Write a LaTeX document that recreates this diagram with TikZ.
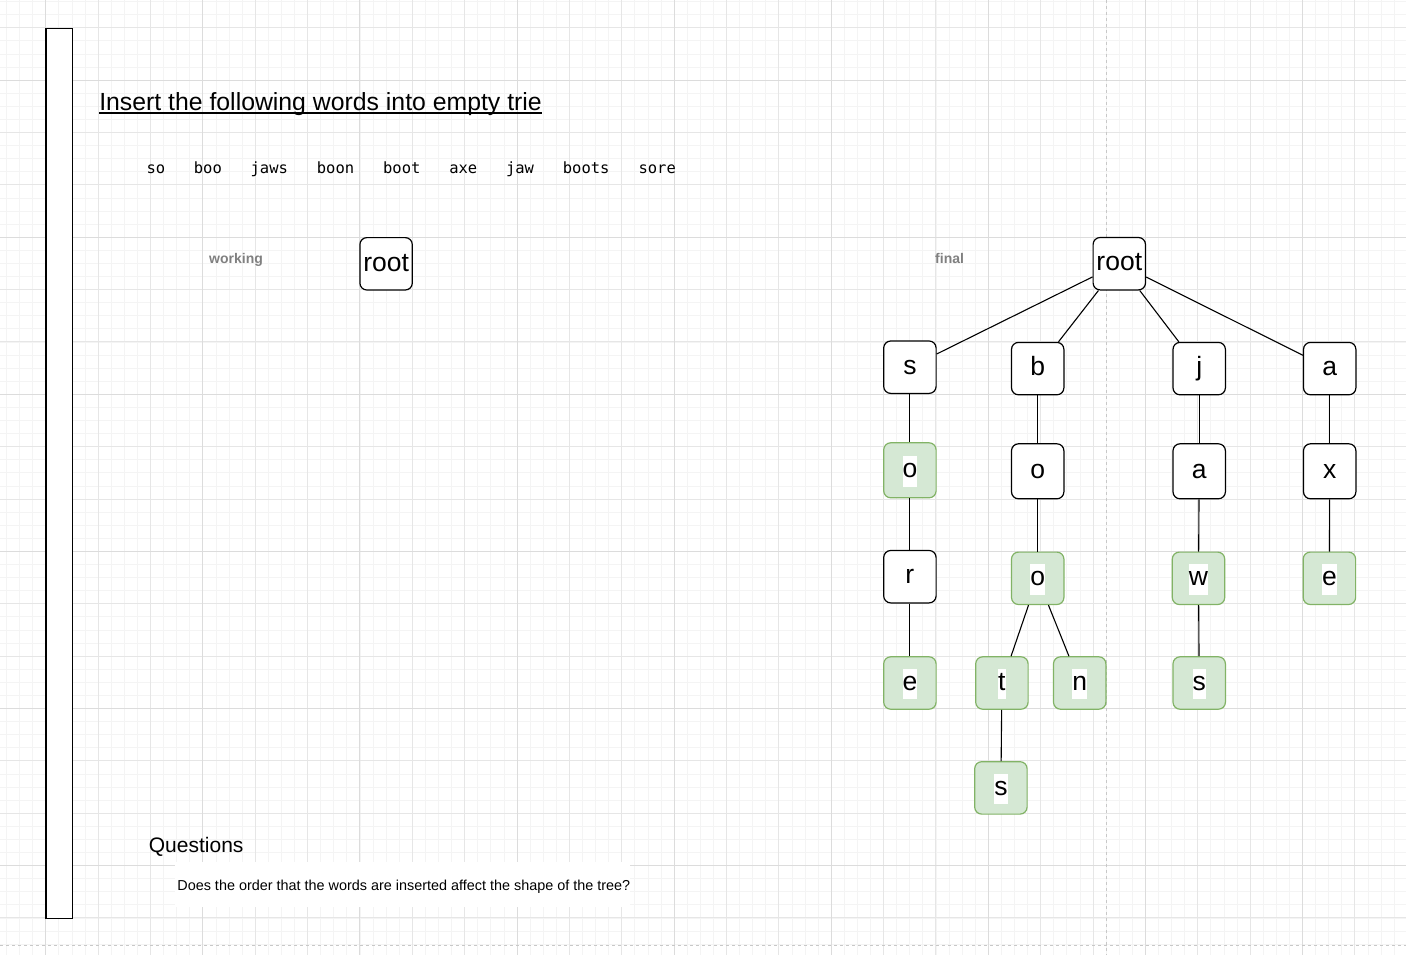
\documentclass[tikz,border=0pt]{standalone}
\usepackage{fontspec}
\setmainfont{Liberation Sans}
\newfontfamily\monof{DejaVu Sans Mono}
\definecolor{gfill}{HTML}{D5E8D4}
\definecolor{gline}{HTML}{82B366}
\definecolor{gridminor}{HTML}{F4F4F4}
\definecolor{gridmajor}{HTML}{E6E6E6}
\definecolor{griddark}{HTML}{DCDCDC}
\definecolor{pagebreak}{HTML}{C8C8C8}
\definecolor{labelgray}{HTML}{808080}
\newcommand{\wbg}[1]{{\setlength{\fboxsep}{0pt}\colorbox{white}{\rule[-9pt]{0pt}{30.5pt}#1}}}
\begin{document}
\begin{tikzpicture}[x=1pt,y=-1pt,
  trie/.style={draw=black, line width=1.2pt, rounded corners=7pt, fill=white,
    minimum width=52.4pt, minimum height=52.4pt, inner sep=0pt,
    font=\fontsize{26.5}{31}\selectfont, text height=22.5pt, text depth=8pt},
  leaf/.style={trie, fill=gfill, draw=gline},
  edge/.style={line width=1.1pt, black},
  word/.style={anchor=base west, inner sep=0pt, font=\monof\fontsize{15.5}{18}\selectfont},
  graylabel/.style={anchor=base west, inner sep=0pt, text=labelgray, font=\bfseries\fontsize{14}{17}\selectfont}]
\useasboundingbox (0,0) rectangle (1406,955);
\fill[white] (0,0) rectangle (1406,955);
% grid
\foreach \i in {0,...,108} {\draw[gridminor, line width=0.8pt] ({-6.56+13.09*\i},0) -- ({-6.56+13.09*\i},955);}
\foreach \i in {0,...,75} {\draw[gridminor, line width=0.8pt] (0,{-24.56+13.09*\i}) -- (1406,{-24.56+13.09*\i});}
\foreach \i in {-1,...,26} {\draw[gridmajor, line width=1pt] ({45.8+52.36*\i},0) -- ({45.8+52.36*\i},955);}
\foreach \i in {-1,...,18} {\draw[gridmajor, line width=1pt] (0,{27.8+52.36*\i}) -- (1406,{27.8+52.36*\i});}
\foreach \i in {0,...,8} {\draw[griddark, line width=1pt] ({45.8+157.08*\i},0) -- ({45.8+157.08*\i},955);}
\foreach \i in {0,...,5} {\draw[griddark, line width=1pt] (0,{80.2+157.08*\i}) -- (1406,{80.2+157.08*\i});}
% page breaks
\draw[pagebreak, line width=1pt, dash pattern=on 3pt off 3pt] (1106.7,0) -- (1106.7,955);
\draw[pagebreak, line width=1pt, dash pattern=on 3pt off 3pt] (0,945) -- (1406,945);
% left bar
\draw[black, line width=1.5pt, fill=white] (46,28.3) rectangle (72.3,918.3);
% title
\node[anchor=base west, inner sep=0pt, font=\fontsize{24.8}{30}\selectfont] (title) at (99.1,111) {Insert the following words into empty trie};
\draw[line width=1.2pt] ([yshift=-2pt]title.base west) -- ([yshift=-2pt]title.base east);
% words
\node[word] (w1) at ({146.4+9.46*0},174) {so};
\node[word] (w2) at ({146.4+9.46*5},174) {boo};
\node[word] (w3) at ({146.4+9.46*11},174) {jaws};
\node[word] (w4) at ({146.4+9.46*18},174) {boon};
\node[word] (w5) at ({146.4+9.46*25},174) {boot};
\node[word] (w6) at ({146.4+9.46*32},174) {axe};
\node[word] (w7) at ({146.4+9.46*38},174) {jaw};
\node[word] (w8) at ({146.4+9.46*44},174) {boots};
\node[word] (w9) at ({146.4+9.46*52},174) {sore};
% labels
\node[graylabel] (working) at (209,263.3) {working};
\node[graylabel] (final) at (935,263.3) {final};
% working root
\node[trie] (wroot) at (386.1,263.8) {root};
% final trie
\node[trie] (root) at (1119.3,263.7) {root};
\node[trie] (s) at (909.9,367.2) {s};
\node[trie] (b) at (1037.7,368.6) {b};
\node[trie] (j) at (1199.2,368.6) {j};
\node[trie] (a) at (1329.7,368.6) {a};
\node[leaf, minimum height=55pt] (so) at (909.9,470.3) {\wbg{o}};
\node[trie, minimum height=55pt] (bo) at (1037.7,471.3) {o};
\node[trie, minimum height=55pt] (ja) at (1199.2,471.3) {a};
\node[trie, minimum height=55pt] (ax) at (1329.7,471.3) {x};
\node[trie] (sor) at (909.9,576.7) {r};
\node[leaf] (boo) at (1037.7,578.3) {\wbg{o}};
\node[leaf] (jaw) at (1198.5,578.3) {\wbg{w}};
\node[leaf] (axe) at (1329.4,578.3) {\wbg{e}};
\node[leaf] (sore) at (909.9,683) {\wbg{e}};
\node[leaf] (boot) at (1001.9,683) {\wbg{t}};
\node[leaf] (boon) at (1079.7,683) {\wbg{n}};
\node[leaf] (jaws) at (1199.2,683) {\wbg{s}};
\node[leaf] (boots) at (1000.9,787.9) {\wbg{s}};
\foreach \p/\c in {root/s, root/b, root/j, root/a, s/so, so/sor, sor/sore, b/bo, bo/boo, boo/boot, boo/boon, boot/boots, j/ja, ja/jaw, jaw/jaws, a/ax, ax/axe}
  {\draw[edge] (\p) -- (\c);}
% questions
\node[anchor=base west, inner sep=0pt, font=\fontsize{21}{25}\selectfont] (questions) at (148.7,852.7) {Questions};
\fill[white] (175.4,861.7) rectangle (629.5,907.3);
\node[anchor=base west, inner sep=0pt, font=\fontsize{14.4}{17}\selectfont] (q1) at (177.2,890.5) {Does the order that the words are inserted affect the shape of the tree?};
\end{tikzpicture}
\end{document}
